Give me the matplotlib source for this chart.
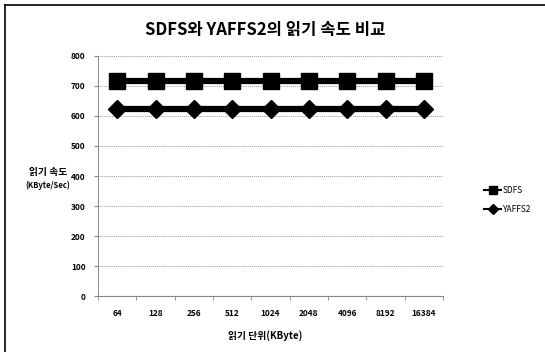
import matplotlib
matplotlib.use('Agg')
import numpy as np
import matplotlib.pyplot as plt
from matplotlib.lines import Line2D

plt.rcParams['font.family'] = ['Noto Sans CJK KR', 'DejaVu Sans']

# 데이터
units = ['64', '128', '256', '512', '1024', '2048', '4096', '8192', '16384']
sdfs = [716, 716, 716, 716, 716, 716, 716, 716, 716]
yaffs2 = [622, 622, 622, 622, 622, 622, 622, 622, 622]
yticks = [0, 100, 200, 300, 400, 500, 600, 700, 800]

fig = plt.figure(figsize=(5.45, 3.52), dpi=100)
ax = fig.add_axes([0.18, 0.159, 0.633, 0.682])

x = np.arange(len(units))
ax.plot(x, sdfs, color='black', lw=4.5, marker='s', ms=12, label='SDFS', zorder=3)
ax.plot(x, yaffs2, color='black', lw=4.5, marker='D', ms=9, label='YAFFS2', zorder=3)

ax.set_xlim(-0.5, len(units) - 0.5)
ax.set_ylim(0, 800)
ax.set_yticks(yticks)
ax.set_xticks(x)
ax.set_xticklabels(units)
ax.set_xticks(np.arange(-0.5, len(units)), minor=True)
ax.tick_params(axis='x', which='major', length=0, pad=9)
ax.tick_params(axis='x', which='minor', length=3, color='#888888')
ax.tick_params(axis='y', length=3, color='#888888', pad=6)
for lab in ax.get_xticklabels() + ax.get_yticklabels():
    lab.set_fontsize(6)
    lab.set_fontweight('bold')

ax.grid(axis='y', color='#999999', ls=(0, (1, 1)), lw=0.7)
for s in ['top', 'right']:
    ax.spines[s].set_visible(False)
ax.spines['left'].set_color('#888888')
ax.spines['left'].set_linestyle((0, (2, 1)))
ax.spines['left'].set_linewidth(0.7)
ax.spines['bottom'].set_color('#888888')
ax.spines['bottom'].set_linewidth(0.8)

fig.text(0.487, 0.915, 'SDFS와 YAFFS2의 읽기 속도 비교', ha='center', va='center',
         fontsize=12, fontweight='bold')
fig.text(0.486, 0.048, '읽기 단위(KByte)', ha='center', va='center',
         fontsize=7, fontweight='bold')
fig.text(0.088, 0.51, '읽기 속도', ha='center', va='center', fontsize=7, fontweight='bold')
fig.text(0.088, 0.473, '(KByte/Sec)', ha='center', va='center', fontsize=5.5, fontweight='bold')

handles = [Line2D([], [], color='black', lw=1.5, marker='s', ms=6),
           Line2D([], [], color='black', lw=1.5, marker='D', ms=5)]
fig.legend(handles, ['SDFS', 'YAFFS2'], loc='center left', bbox_to_anchor=(0.875, 0.432),
           frameon=False, fontsize=6, handlelength=2.0, handletextpad=0.2, labelspacing=1.2)

# 바깥 테두리
fig.add_artist(Line2D([0.009, 1.0], [0.986, 0.986], color='black', lw=1.2, transform=fig.transFigure))
fig.add_artist(Line2D([0.009, 0.009], [0.0, 0.986], color='black', lw=1.2, transform=fig.transFigure))

fig.savefig('out.png', dpi=100)
